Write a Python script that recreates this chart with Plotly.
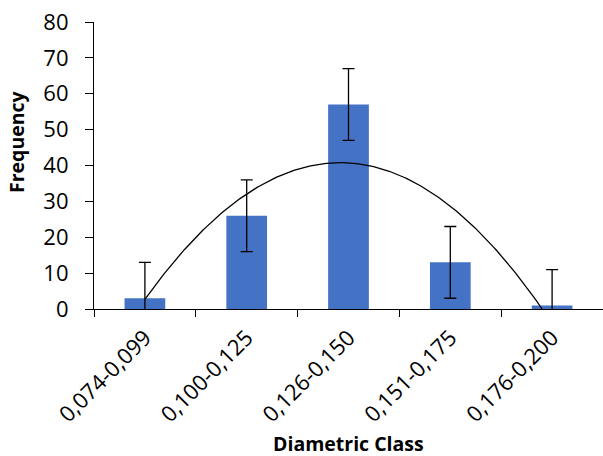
import numpy as np
import plotly.graph_objects as go

categories = ["0,074-0,099", "0,100-0,125", "0,126-0,150", "0,151-0,175", "0,176-0,200"]
frequency = [3, 26, 57, 13, 1]
error = [10, 10, 10, 10, 10]
y_ticks = [0, 10, 20, 30, 40, 50, 60, 70, 80]

xpos = np.arange(len(categories))

# polynomial (order 2) trendline fitted to the data
coef = np.polyfit(xpos, frequency, 2)
roots = np.roots(coef)
xend = max(r.real for r in roots if abs(r.imag) < 1e-9 and r.real > 0)
xend = min(xend, xpos[-1])
xs = np.linspace(xpos[0], xend, 200)
ys = np.polyval(coef, xs)

font = "'Open Sans', 'Liberation Sans', sans-serif"

fig = go.Figure()
fig.add_trace(go.Bar(
    x=xpos, y=frequency, marker=dict(color="#4472C4", line=dict(width=0)),
    error_y=dict(type="data", array=error, visible=True, color="black", thickness=1.3, width=6),
    width=0.4, showlegend=False,
))
fig.add_trace(go.Scatter(
    x=xs, y=ys, mode="lines", line=dict(color="black", width=1.3), showlegend=False,
))
# invisible trace on overlay axis for boundary ticks
fig.add_trace(go.Scatter(x=[-0.5, 4.5], y=[0, 0], xaxis="x2", mode="lines",
                         line=dict(width=0), hoverinfo="skip", showlegend=False))

# plot area in page px: x 94..603, y 22..309
fig.update_layout(
    width=603, height=456,
    margin=dict(l=94, r=0, t=22, b=147, autoexpand=False),
    plot_bgcolor="white", paper_bgcolor="white",
    font=dict(family=font, color="black", size=22),
    xaxis=dict(
        range=[-0.5, 4.5], tickmode="array", tickvals=list(xpos), ticktext=categories,
        tickangle=-45, ticks="", showgrid=False, zeroline=False,
        showline=True, linecolor="black", linewidth=1.2,
        tickfont=dict(size=22, family=font), automargin=False, ticklabelstandoff=6,
    ),
    xaxis2=dict(
        range=[-0.5, 4.5], overlaying="x", side="bottom", tickmode="array",
        tickvals=[-0.5, 0.5, 1.5, 2.5, 3.5, 4.5], showticklabels=False,
        ticks="outside", ticklen=7, tickcolor="black", tickwidth=1.2,
        showgrid=False, zeroline=False, showline=False,
    ),
    yaxis=dict(
        range=[0, 80], tickmode="array", tickvals=y_ticks,
        ticks="outside", ticklen=8, tickcolor="black", tickwidth=1.2,
        showgrid=False, zeroline=False, showline=True, linecolor="black", linewidth=1.2,
        tickfont=dict(size=22, family=font), automargin=False, ticklabelstandoff=12,
    ),
    annotations=[
        dict(text="<b>Diametric Class</b>", xref="paper", yref="paper",
             x=0.5, y=(309 - 443) / 287, xanchor="center", yanchor="middle",
             showarrow=False, borderpad=0, font=dict(size=19.5, family=font)),
        dict(text="<b>Frequency</b>", xref="paper", yref="paper",
             x=(16 - 94) / 509, y=(309 - 142) / 287, xanchor="center", yanchor="middle",
             textangle=-90, showarrow=False, borderpad=0, font=dict(size=19.5, family=font)),
    ],
)

fig.write_html("out.html", config={"displayModeBar": False},
               post_script="document.body.style.margin='0';")
